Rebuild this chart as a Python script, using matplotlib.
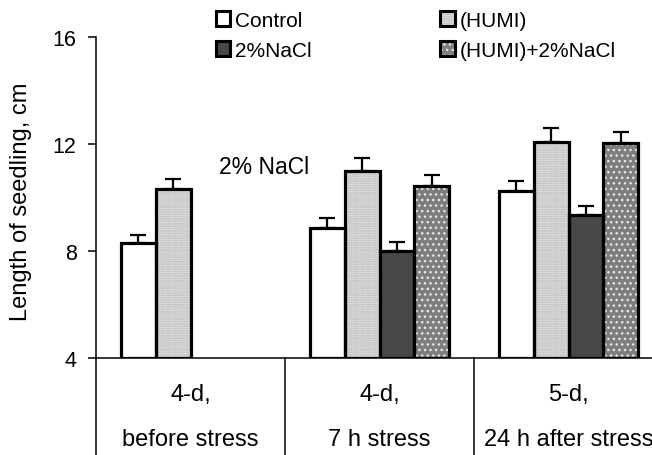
import matplotlib
matplotlib.use("Agg")
from matplotlib import pyplot as plt, patches
from matplotlib.legend_handler import HandlerTuple
import numpy as np

plt.rcParams['font.family'] = ['Liberation Sans', 'DejaVu Sans']
plt.rcParams['hatch.linewidth'] = 1.0

# seedling length, cm (mean and upper error) per stage
days = ['4-d,', '4-d,', '5-d,']
stages = ['before stress', '7 h stress', '24 h after stress']

control = [8.30, 8.86, 10.25]
humi = [10.32, 11.00, 12.09]
nacl = [np.nan, 8.01, 9.35]
humi_nacl = [np.nan, 10.44, 12.03]

control_err = [0.30, 0.36, 0.37]
humi_err = [0.37, 0.47, 0.52]
nacl_err = [0.0, 0.31, 0.34]
humi_nacl_err = [0.0, 0.41, 0.43]

fig = plt.figure(figsize=(6.52, 4.56), dpi=100)
ax = fig.add_axes([96/652, 1-359/456, 567/652, 321/456])

x = np.arange(len(stages))
w = 0.185

# order of bars inside a group: Control, HUMI, NaCl, HUMI+NaCl
bar_sets = [
    (control, control_err, 'white', None, None),
    (humi, humi_err, '#e2e2e2', '#b4b4b4', '.......'),
    (nacl, nacl_err, '#484846', None, None),
    (humi_nacl, humi_nacl_err, '#7e7e7e', '#e8e8e8', '...'),
]
handles = {}
names = ['Control', '(HUMI)', '2%NaCl', '(HUMI)+2%NaCl']
for k, (vals, errs, fc, hc, hatch) in enumerate(bar_sets):
    pos = x + (k - 1.5) * w
    vals = np.array(vals, dtype=float)
    if hatch:
        ax.bar(pos, vals - 4, w, bottom=4, color=fc, edgecolor=hc,
               hatch=hatch, linewidth=0, zorder=2)
    else:
        ax.bar(pos, vals - 4, w, bottom=4, color=fc, linewidth=0, zorder=2)
    ax.bar(pos, vals - 4, w, bottom=4, fill=False, edgecolor='black',
           linewidth=2.3, zorder=3)
    ok = ~np.isnan(vals)
    ax.errorbar(pos[ok], vals[ok], yerr=[np.zeros(ok.sum()), np.array(errs)[ok]],
                fmt='none', ecolor='black', elinewidth=1.6, capsize=6,
                capthick=1.6, zorder=1)
    face = patches.Patch(facecolor=fc, edgecolor=hc if hc else fc,
                         hatch=hatch, linewidth=0)
    edge = patches.Patch(fill=False, edgecolor='black', linewidth=2.2)
    handles[names[k]] = (face, edge)

ax.set_xlim(-0.5, 2.5)
ax.set_ylim(4, 16)
ax.set_yticks([4, 8, 12, 16])
ax.tick_params(axis='y', labelsize=15.5, length=6, width=1.1,
               direction='out', pad=8)
ax.set_xticks([])
for s in ['top', 'right']:
    ax.spines[s].set_visible(False)
ax.spines['left'].set_linewidth(1.1)
ax.spines['bottom'].set_linewidth(1.1)

ax.set_ylabel('Length of seedling, cm', fontsize=17)
ax.yaxis.set_label_coords(-0.112, 0.49)

# category table under the axis
xt = ax.get_xaxis_transform()
for xs in [-0.5, 0.5, 1.5]:
    ax.plot([xs, xs], [0, -0.32], color='black', lw=1.1, transform=xt,
            clip_on=False)
for i in range(len(stages)):
    ax.text(x[i], -0.112, days[i], ha='center', va='center', fontsize=17,
            transform=xt)
    ax.text(x[i], -0.252, stages[i], ha='center', va='center', fontsize=17,
            transform=xt)

ax.text(0.39, 11.15, '2% NaCl', ha='center', va='center', fontsize=16.5)

order = ['Control', '2%NaCl', '(HUMI)', '(HUMI)+2%NaCl']
fig.legend([handles[n] for n in order], order, ncol=2, frameon=False,
           loc='upper left', bbox_to_anchor=(201/652, 1 + 3/456),
           fontsize=15, handlelength=0.7, handleheight=0.7,
           handletextpad=0.25, columnspacing=6.15, labelspacing=0.55,
           borderpad=0.2,
           handler_map={tuple: HandlerTuple(ndivide=1, pad=0)})

fig.savefig('out.png', dpi=100, facecolor='white')
